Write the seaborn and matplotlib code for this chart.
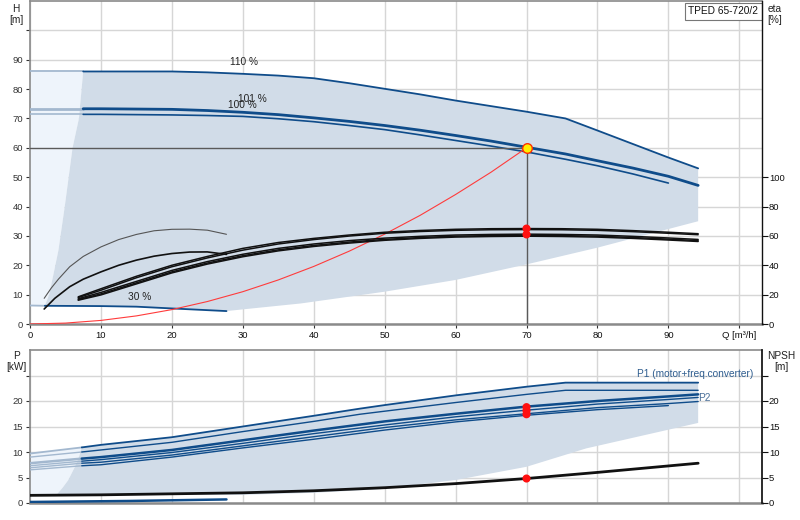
import numpy as np
import pandas as pd
import matplotlib
matplotlib.use("Agg")
import matplotlib.pyplot as plt
import seaborn as sns

sns.set_theme(style="white")
plt.rcParams['font.family'] = ['Liberation Sans', 'DejaVu Sans']

# ---------------- data ----------------
# Head curves  (Q m3/h , H m)
Q_h = [0, 7.5, 10, 15, 20, 25, 30, 35, 40, 45, 50, 55, 60, 65, 70, 75.5, 80, 85, 90, 94.2]
H110 = [86, 86, 86, 86, 86, 85.7, 85.2, 84.6, 83.7, 82.0, 80.1, 78.2, 76.1, 74.2, 72.3,
        70.0, 65.9, 61.3, 56.7, 53.0]
H101 = [73.3, 73.3, 73.3, 73.2, 73.1, 72.7, 72.1, 71.3, 70.2, 69.0, 67.6, 66.0, 64.2, 62.3,
        60.2, 57.9, 55.6, 53.1, 50.3, 47.2]
Q_h100 = [0, 7.5, 10, 15, 20, 25, 30, 35, 40, 45, 50, 55, 60, 65, 70, 75.5, 80, 85, 90]
H100 = [71.4, 71.4, 71.4, 71.3, 71.2, 71.0, 70.7, 69.9, 68.9, 67.6, 66.2, 64.4, 62.5, 60.6,
        58.6, 56.1, 53.9, 51.1, 48.0]
Q30 = [0, 2.1, 10, 15, 20, 27.7]
H30 = [6.3, 6.2, 6.1, 5.9, 5.3, 4.4]

# operating range boundaries (top chart)
QL = [2.1, 2.7, 3.4, 4.0, 4.9, 6.0, 6.9, 7.5]
HL = [6.2, 10, 18, 25, 40, 60, 70, 86]
Q_lo = [27.7, 31.7, 38.2, 50, 60, 70, 80, 94.2]
H_lo = [4.4, 5.4, 7.0, 11.0, 15.0, 20.3, 26.0, 35.0]

# system curve
Q_sys = [0, 5, 10, 15, 20, 25, 30, 35, 40, 45, 50, 55, 60, 65, 70]
H_sys = [0, 0.31, 1.22, 2.76, 4.9, 7.65, 11.0, 15.0, 19.6, 24.8, 30.6, 37.0, 44.1, 51.7, 60.0]

# duty point
op_Q = 70
op_H = 60

# efficiency curves (eta %)
Q_eta = [6.8, 10, 15, 20, 25, 30, 35, 40, 45, 50, 55, 60, 65, 70, 75, 80, 85, 90, 94.2]
etaA = [18.5, 24.0, 32.5, 40.0, 46.0, 51.5, 55.5, 58.3, 60.6, 62.5, 63.7, 64.5, 64.9, 65.0,
        64.9, 64.5, 63.6, 62.5, 61.5]
etaB = [18.0, 23.0, 31.5, 39.0, 45.0, 50.3, 54.5, 57.5, 59.9, 61.8, 63.0, 63.8, 64.2, 64.3,
        64.2, 63.8, 62.9, 61.8, 60.8]
etaC = [17.2, 21.5, 29.0, 36.5, 42.5, 47.5, 51.5, 54.5, 56.8, 58.5, 59.7, 60.6, 61.0, 61.2,
        61.0, 60.6, 59.7, 58.6, 57.6]
etaD = [16.6, 20.5, 28.0, 35.5, 41.5, 46.5, 50.5, 53.5, 55.8, 57.6, 58.9, 59.8, 60.2, 60.4,
        60.2, 59.8, 58.9, 57.8, 56.8]
etaE = [16.2, 19.8, 27.3, 34.8, 40.8, 45.8, 49.8, 52.8, 55.1, 57.0, 58.3, 59.2, 59.6, 59.8,
        59.6, 59.2, 58.3, 57.2, 56.2]
Q_eta_t = [2, 3, 4, 5.6, 7.5, 10, 12.5, 15, 17.5, 20, 22.5, 25, 27.7]
eta_t = [17.5, 24.5, 30.5, 39.0, 46.0, 52.5, 57.5, 61.0, 63.5, 64.5, 64.6, 63.9, 61.1]
Q_eta_m = [2, 3.5, 5.6, 7.5, 10, 12.5, 15, 17.5, 20, 22.5, 25, 27.7]
eta_m = [10.2, 17.5, 25.4, 30.5, 35.5, 40.0, 43.5, 46.2, 48.0, 49.0, 49.1, 47.4]
eta_dots = [65.0, 61.0]

# power curves (kW)
Q_p = [0, 7.3, 10, 20, 30, 40, 46.5, 50, 60, 70, 75.5, 94.2]
P1_110 = [9.7, 10.9, 11.4, 12.9, 15.0, 17.1, 18.5, 19.2, 21.1, 22.8, 23.6, 23.6]
P1_101 = [9.0, 10.0, 10.4, 11.9, 14.0, 16.0, 17.4, 18.0, 19.7, 21.3, 22.1, 22.1]
Q_b = [0, 7.3, 10, 20, 30, 40, 50, 60, 70, 80, 90, 94.2]
B1 = [7.8, 8.7, 9.0, 10.4, 12.3, 14.2, 16.0, 17.5, 18.9, 20.0, 20.9, 21.3]
B2 = [7.3, 8.2, 8.5, 9.9, 11.7, 13.6, 15.3, 16.9, 18.2, 19.4, 20.3, 20.7]
B3 = [6.9, 7.8, 8.0, 9.4, 11.2, 13.0, 14.8, 16.3, 17.5, 18.7, 19.5, 19.9]
Q_b4 = [0, 7.3, 10, 20, 30, 40, 50, 60, 70, 80, 90]
B4 = [6.5, 7.3, 7.5, 9.0, 10.8, 12.5, 14.3, 15.9, 17.2, 18.3, 19.1]
P_dots = [18.8, 18.1, 17.4]
Q_p30 = [0, 14, 27.7]
P30 = [0.2, 0.4, 0.7]

# NPSH (m)
Q_n = [0, 10, 20, 30, 40, 50, 60, 70, 80, 94.2]
NPSH = [1.5, 1.6, 1.8, 2.0, 2.4, 3.0, 3.8, 4.8, 6.0, 7.8]
npsh_dot = 4.8

# power-range boundaries
QLb = [3.8, 4.6, 5.4, 6.3, 6.9, 7.3]
PLb = [1.7, 3.0, 4.5, 7.0, 9.0, 10.9]
Q_lb = [3.8, 20, 30, 40, 49.3, 60, 70, 78.4, 94.2]
P_lb = [1.7, 1.6, 1.6, 2.0, 2.7, 4.5, 7.1, 10.7, 15.7]

x_ticks = [0, 10, 20, 30, 40, 50, 60, 70, 80, 90, 100]
x_labels = ['0', '10', '20', '30', '40', '50', '60', '70', '80', '90', 'Q [m³/h]']

# ---------------- styles ----------------
DARK = '#0f4c8a'
LIGHT = '#a3b8cf'
REGION = '#d1dce8'
REGION_L = '#eef4fb'
GRID = '#d6d6d6'
FS_T = 6.8
FS = 7.3

fig = plt.figure(figsize=(8, 5.2), dpi=100)
ax = fig.add_axes([30/800, 1-324/520, 732/800, 323/520])
ax2 = fig.add_axes([30/800, 1-503/520, 732/800, 153/520])


def line(a, x, y, color, lw, z=3):
    sns.lineplot(x=x, y=y, ax=a, color=color, linewidth=lw, sort=False,
                 estimator=None, zorder=z)


# ---------------- top chart ----------------
ax.fill([0] + QL + [0], [H30[0]] + HL + [H110[0]], color=REGION_L, lw=0, zorder=1)
ax.fill(QL + Q_h[1:] + Q_lo[::-1] + Q30[1:][::-1],
        HL + H110[1:] + H_lo[::-1] + H30[1:][::-1], color=REGION, lw=0, zorder=1)

for yy, lw in ((H110, 1.3), (H101, 2.0)):
    line(ax, Q_h[:2], yy[:2], LIGHT, lw)
    line(ax, Q_h[1:], yy[1:], DARK, lw)
line(ax, Q_h100[:2], H100[:2], LIGHT, 1.2)
line(ax, Q_h100[1:], H100[1:], DARK, 1.2)
line(ax, Q30[:2], H30[:2], LIGHT, 1.3)
line(ax, Q30[1:], H30[1:], DARK, 1.3)

line(ax, Q_sys, H_sys, '#ff3b3b', 0.8, z=4)
line(ax, [0, op_Q], [op_H, op_H], '#5a5a5a', 1.0, z=4)
line(ax, [op_Q, op_Q], [0, op_H], '#5a5a5a', 1.0, z=4)
sns.scatterplot(x=[op_Q], y=[op_H], ax=ax, s=48, color='#ffee00',
                edgecolor='#ff3000', linewidth=1.0, zorder=6)

ax.text(30.1, 89.2, '110 %', fontsize=FS, ha='center', va='center', color='#222222', zorder=7)
ax.text(31.4, 76.6, '101 %', fontsize=FS, ha='center', va='center', color='#222222', zorder=7)
ax.text(30.0, 74.6, '100 %', fontsize=FS, ha='center', va='center', color='#222222', zorder=7)
ax.text(15.4, 9.3, '30 %', fontsize=FS, ha='center', va='center', color='#222222', zorder=7)

ax.set_xlim(0, 103.2)
ax.set_ylim(0, 110)
ax.set_xticks(x_ticks)
ax.set_xticklabels(x_labels)
ax.set_yticks(range(0, 110, 10))
ax.set_yticklabels([str(v) if v <= 90 else '' for v in range(0, 110, 10)])
ax.grid(True, color=GRID, lw=1)
ax.set_axisbelow(True)
ax.tick_params(axis='both', labelsize=FS_T, colors='#333333', length=3,
               width=0.8, direction='out', pad=2, left=True, bottom=True)
ax.tick_params(axis='x', labelcolor='#111111')
for s in ('top', 'left', 'bottom'):
    ax.spines[s].set_color('#8a8a8a')
    ax.spines[s].set_linewidth(1.2)
ax.spines['bottom'].set_linewidth(1.8)
ax.spines['right'].set_visible(False)

ax_e = ax.twinx()
ax_e.set_ylim(0, 220)
ax_e.set_yticks(range(0, 101, 20))
ax_e.tick_params(axis='y', labelsize=FS_T, colors='#111111', length=4, width=0.8, pad=1, right=True)
ax_e.grid(False)
for s in ('top', 'left', 'bottom'):
    ax_e.spines[s].set_visible(False)
ax_e.spines['right'].set_color('#111111')
ax_e.spines['right'].set_linewidth(1.0)

line(ax_e, Q_eta_t, eta_t, '#555555', 0.8)
line(ax_e, Q_eta_m, eta_m, '#111111', 1.2)
for e in (etaA, etaB, etaC, etaD, etaE):
    line(ax_e, Q_eta, e, '#111111', 1.1)
sns.scatterplot(x=[op_Q] * len(eta_dots), y=eta_dots, ax=ax_e, s=34,
                color='#ff1010', edgecolor='none', zorder=6)
ax_e.set_xlim(0, 103.2)

ax.text(0.947, 0.968, 'TPED 65-720/2', transform=ax.transAxes, fontsize=FS,
        ha='center', va='center', color='#111111', zorder=8,
        bbox=dict(boxstyle='square,pad=0.35', fc='white', ec='#777777', lw=0.8))

fig.text(16/800, 1-9/520, 'H', fontsize=FS, ha='center', va='center', color='#222222')
fig.text(16/800, 1-20/520, '[m]', fontsize=FS, ha='center', va='center', color='#222222')
fig.text(775/800, 1-9/520, 'eta', fontsize=FS, ha='center', va='center', color='#222222')
fig.text(775/800, 1-20/520, '[%]', fontsize=FS, ha='center', va='center', color='#222222')

# ---------------- bottom chart ----------------
ax2.fill([0] + QLb + [0], [NPSH[0] + 0.1] + PLb + [P1_110[0]], color=REGION_L, lw=0, zorder=1)
ax2.fill(QLb + Q_p[1:] + Q_lb[::-1], PLb + P1_110[1:] + P_lb[::-1],
         color=REGION, lw=0, zorder=1)

line(ax2, Q_p[:2], P1_110[:2], LIGHT, 1.3)
line(ax2, Q_p[1:], P1_110[1:], DARK, 1.3)
line(ax2, Q_p[:2], P1_101[:2], LIGHT, 1.0)
line(ax2, Q_p[1:], P1_101[1:], DARK, 1.0)
for bb, lw in ((B1, 1.8), (B2, 1.0), (B3, 1.0)):
    line(ax2, Q_b[:2], bb[:2], LIGHT, lw)
    line(ax2, Q_b[1:], bb[1:], DARK, lw)
line(ax2, Q_b4[:2], B4[:2], LIGHT, 1.0)
line(ax2, Q_b4[1:], B4[1:], DARK, 1.0)
line(ax2, Q_p30, P30, DARK, 1.8)
line(ax2, Q_n, NPSH, '#111111', 2.0, z=4)

sns.scatterplot(x=[op_Q] * len(P_dots), y=P_dots, ax=ax2, s=34,
                color='#ff1010', edgecolor='none', zorder=6)
sns.scatterplot(x=[op_Q], y=[npsh_dot], ax=ax2, s=34,
                color='#ff1010', edgecolor='none', zorder=6)

ax2.text(93.8, 25.3, 'P1 (motor+freq.converter)', fontsize=FS, ha='center', va='center',
         color='#2f5d8f', zorder=7)
ax2.text(95.0, 20.6, 'P2', fontsize=FS, ha='center', va='center', color='#4a6f99', zorder=7)

ax2.set_xlim(0, 103.2)
ax2.set_ylim(0, 30)
ax2.set_xticks(x_ticks)
ax2.set_xticklabels([])
ax2.set_yticks(range(0, 30, 5))
ax2.set_yticklabels([str(v) if v <= 20 else '' for v in range(0, 30, 5)])
ax2.grid(True, color=GRID, lw=1)
ax2.set_axisbelow(True)
ax2.tick_params(axis='y', labelsize=FS_T, colors='#333333', length=3, width=0.8, pad=2, left=True)
ax2.tick_params(axis='x', length=0)
for s in ('top', 'left', 'bottom'):
    ax2.spines[s].set_color('#8a8a8a')
    ax2.spines[s].set_linewidth(1.2)
ax2.spines['bottom'].set_linewidth(1.8)
ax2.spines['right'].set_visible(False)

ax2r = ax2.twinx()
ax2r.set_ylim(0, 30)
ax2r.set_yticks(range(0, 30, 5))
ax2r.set_yticklabels([str(v) if v <= 20 else '' for v in range(0, 30, 5)])
ax2r.tick_params(axis='y', labelsize=FS_T, colors='#111111', length=4, width=0.8, pad=1, right=True)
ax2r.grid(False)
for s in ('top', 'left', 'bottom'):
    ax2r.spines[s].set_visible(False)
ax2r.spines['right'].set_color('#111111')

fig.text(16/800, 1-356/520, 'P', fontsize=FS, ha='center', va='center', color='#222222')
fig.text(16/800, 1-367/520, '[kW]', fontsize=FS, ha='center', va='center', color='#222222')
fig.text(781/800, 1-356/520, 'NPSH', fontsize=FS, ha='center', va='center', color='#222222')
fig.text(781/800, 1-367/520, '[m]', fontsize=FS, ha='center', va='center', color='#222222')

fig.savefig('out.png', dpi=100, facecolor='white')
